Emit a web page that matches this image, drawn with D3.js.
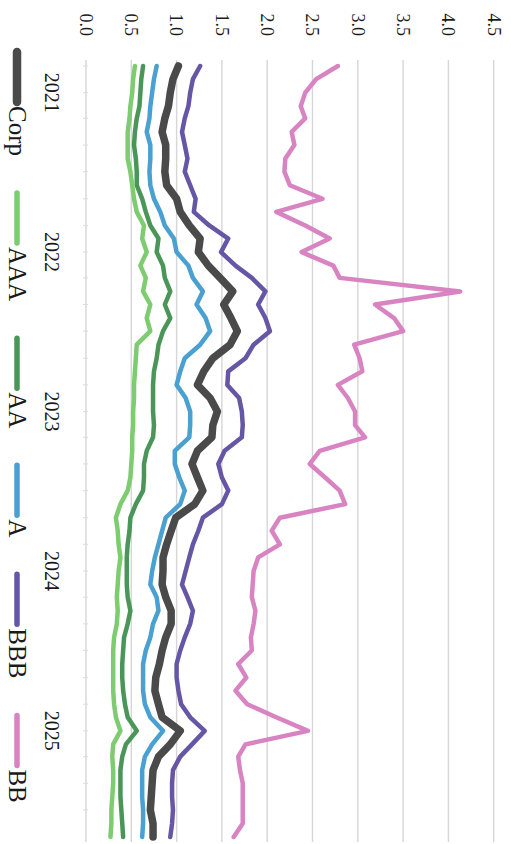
<!DOCTYPE html>
<html>
<head>
<meta charset="utf-8">
<script src="https://cdn.jsdelivr.net/npm/d3@7"></script>
<style>
  html, body { margin: 0; padding: 0; background: #fff; }
  svg { display: block; }
  text { font-family: "Liberation Serif", "DejaVu Serif", serif; fill: #1a1a1a; }
</style>
</head>
<body>
<svg id="chart" width="511" height="844"></svg>
<script>
// ---- data ----
const months = d3.timeMonth.range(new Date(2020, 10, 1), new Date(2025, 9, 1)); // Nov 2020 .. Sep 2025
const seriesNames = ["Corp", "AAA", "AA", "A", "BBB", "BB"];
const valueTicks = [0, 0.5, 1.0, 1.5, 2.0, 2.5, 3.0, 3.5, 4.0, 4.5];

const corp = [1.02,0.96,0.93,0.91,0.87,0.84,0.88,0.88,0.87,0.89,1.00,1.04,1.14,1.26,1.24,1.35,1.48,1.62,1.52,1.60,1.67,1.59,1.40,1.30,1.23,1.37,1.45,1.40,1.39,1.23,1.17,1.23,1.29,1.20,0.99,0.94,0.89,0.85,0.85,0.84,0.88,0.94,0.94,0.88,0.84,0.81,0.77,0.76,0.80,0.84,1.04,0.93,0.80,0.74,0.73,0.72,0.71,0.74,0.74];
const aaa  = [0.54,0.52,0.51,0.49,0.48,0.46,0.46,0.46,0.49,0.51,0.53,0.56,0.64,0.62,0.67,0.60,0.66,0.63,0.71,0.67,0.71,0.56,0.55,0.54,0.53,0.53,0.52,0.52,0.51,0.51,0.50,0.49,0.46,0.38,0.33,0.35,0.36,0.38,0.36,0.35,0.34,0.35,0.34,0.31,0.30,0.30,0.30,0.30,0.31,0.33,0.38,0.30,0.29,0.30,0.30,0.29,0.28,0.28,0.27];
const aa   = [0.63,0.61,0.60,0.59,0.56,0.54,0.53,0.55,0.56,0.56,0.62,0.66,0.71,0.80,0.78,0.85,0.87,0.93,0.87,0.93,0.85,0.80,0.78,0.75,0.74,0.74,0.74,0.75,0.74,0.67,0.64,0.64,0.63,0.55,0.49,0.48,0.46,0.45,0.45,0.45,0.46,0.49,0.46,0.42,0.41,0.40,0.40,0.41,0.43,0.46,0.56,0.44,0.40,0.38,0.38,0.38,0.39,0.40,0.41];
const a    = [0.78,0.75,0.73,0.71,0.70,0.67,0.71,0.71,0.70,0.71,0.75,0.82,0.87,0.97,1.00,1.13,1.18,1.29,1.22,1.32,1.37,1.26,1.09,1.04,1.00,1.10,1.15,1.15,1.14,0.98,0.98,1.03,1.09,1.04,0.88,0.84,0.80,0.76,0.73,0.71,0.78,0.80,0.74,0.71,0.66,0.63,0.63,0.63,0.65,0.71,0.85,0.73,0.65,0.62,0.62,0.62,0.63,0.63,0.62];
const bbb  = [1.26,1.18,1.15,1.13,1.09,1.06,1.09,1.12,1.09,1.15,1.21,1.19,1.36,1.57,1.49,1.65,1.83,1.98,1.90,1.98,2.03,1.85,1.76,1.57,1.56,1.69,1.72,1.73,1.72,1.53,1.46,1.50,1.57,1.50,1.29,1.24,1.18,1.14,1.10,1.06,1.12,1.18,1.15,1.09,1.04,1.00,1.00,1.02,1.05,1.15,1.31,1.17,1.04,0.96,0.95,0.95,0.96,0.95,0.93];
const bb   = [2.78,2.54,2.42,2.37,2.42,2.27,2.30,2.20,2.19,2.25,2.61,2.10,2.42,2.69,2.38,2.73,2.80,4.13,3.19,3.40,3.50,2.96,3.02,3.05,2.78,2.89,2.97,2.97,3.08,2.58,2.47,2.64,2.80,2.86,2.14,2.05,2.14,1.90,1.85,1.84,1.83,1.87,1.85,1.82,1.83,1.68,1.77,1.65,1.78,2.10,2.45,1.76,1.68,1.70,1.73,1.73,1.73,1.73,1.63];

const seriesValues = [corp, aaa, aa, a, bbb, bb];

// ---- styles ----
const colors = { Corp: "#4a4a4a", AAA: "#7dcc70", AA: "#4a9658", A: "#4aa0d0", BBB: "#6656a6", BB: "#d884c2" };
const widths = { Corp: 7.5, AAA: 4.5, AA: 4.5, A: 4.5, BBB: 4.5, BB: 4.5 };

// ---- layout (chart drawn in landscape 844x511 frame, then rotated 90deg clockwise) ----
const svg = d3.select("#chart");
const g = svg.append("g").attr("transform", `translate(511,0) rotate(90)`);

const x = d3.scaleTime()
  .domain([months[0], months[months.length - 1]])
  .range([66, 837]);
const y = d3.scaleLinear().domain([0, 4.5]).range([425, 17.3]);

// gridlines
g.append("g").selectAll("line").data(valueTicks).join("line")
  .attr("x1", 60).attr("x2", 842)
  .attr("y1", d => y(d)).attr("y2", d => y(d))
  .attr("stroke", "#d6d6d6").attr("stroke-width", 1.4);

// value labels
g.append("g").selectAll("text").data(valueTicks).join("text")
  .attr("x", 36).attr("y", d => y(d)).attr("dy", "0.34em")
  .attr("text-anchor", "end")
  .style("font-size", "18px")
  .text(d => d3.format(".1f")(d));

// small time ticks on baseline
const tickDates = d3.timeMonth.every(2).range(months[0], months[months.length - 1]);
g.append("g").selectAll("line").data(tickDates).join("line")
  .attr("x1", d => x(d)).attr("x2", d => x(d))
  .attr("y1", y(0) - 2).attr("y2", y(0) + 3)
  .attr("stroke", "#dcdcdc").attr("stroke-width", 1);

// year labels
const years = d3.timeYear.range(new Date(2021, 0, 1), new Date(2025, 1, 1));
g.append("g").selectAll("text").data(years).join("text")
  .attr("x", d => x(d)).attr("y", 466)
  .attr("text-anchor", "middle")
  .style("font-size", "20px")
  .text(d => d3.timeFormat("%Y")(d));

// lines
const line = d3.line().x((d, i) => x(months[i])).y(d => y(d)).curve(d3.curveLinear);
const drawOrder = ["BB", "BBB", "A", "AA", "AAA", "Corp"];
drawOrder.forEach(name => {
  const vals = seriesValues[seriesNames.indexOf(name)];
  g.append("path").datum(vals)
    .attr("d", line)
    .attr("fill", "none")
    .attr("stroke", colors[name])
    .attr("stroke-width", widths[name])
    .attr("stroke-linejoin", "round")
    .attr("stroke-linecap", "round");
});

// legend
const legend = g.append("g");
let lx = 50;
const ly = 494;
seriesNames.forEach(name => {
  legend.append("line")
    .attr("x1", lx + 2).attr("x2", lx + 52).attr("y1", ly).attr("y2", ly)
    .attr("stroke", colors[name]).attr("stroke-width", widths[name] + 1)
    .attr("stroke-linecap", "round");
  const t = legend.append("text")
    .attr("x", lx + 56).attr("y", ly).attr("dy", "0.33em")
    .style("font-size", "25px")
    .text(name);
  lx += 56 + t.node().getComputedTextLength() + 35;
});
</script>
</body>
</html>
